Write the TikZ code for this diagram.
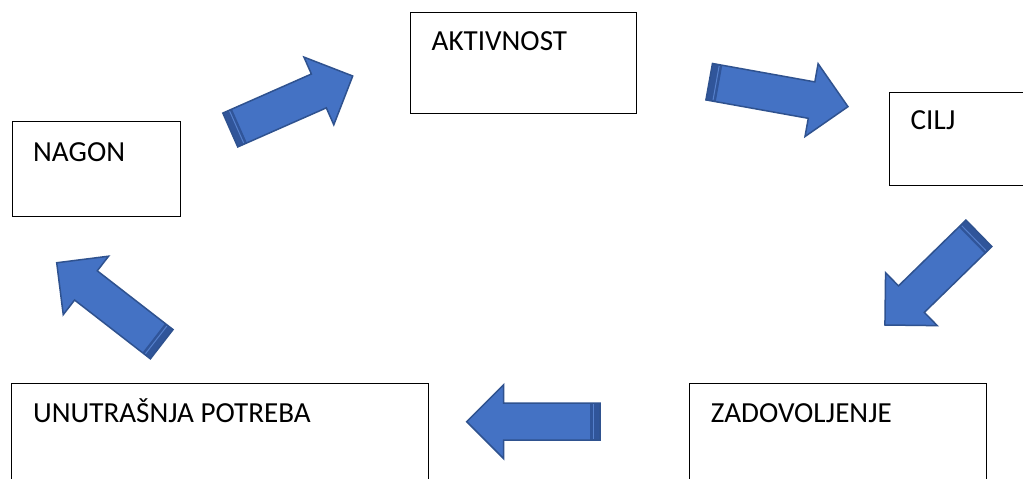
\documentclass[tikz,border=0pt]{standalone}
\usepackage{fontspec}
\setmainfont{Carlito}
\usetikzlibrary{calc}
\definecolor{afill}{HTML}{4472C4}
\definecolor{aline}{HTML}{2F528F}
\definecolor{astripe}{HTML}{30559A}
\definecolor{alight}{HTML}{5580CC}
\tikzset{
  box/.style={draw=black, line width=1.4pt, fill=white, anchor=north west, inner sep=0pt},
  lbl/.style={anchor=base west, inner sep=0pt, font=\fontsize{29.1}{33}\selectfont},
  pics/blockarrow/.style={code={
    \fill[afill] (0,-18.5) -- (#1-37,-18.5) -- (#1-37,-37) -- (#1,0) -- (#1-37,37) -- (#1-37,18.5) -- (0,18.5) -- cycle;
    \fill[astripe] (0,-18.5) rectangle (10,18.5);
    \draw[alight, line width=1pt] (7,-17.5) -- (7,17.5);
    \draw[aline, line width=1.5pt, line join=miter] (0,-18.5) -- (#1-37,-18.5) -- (#1-37,-37) -- (#1,0) -- (#1-37,37) -- (#1-37,18.5) -- (0,18.5) -- cycle;
  }}
}
\begin{document}
\begin{tikzpicture}[x=1pt, y=-1pt]
\useasboundingbox (0,0) rectangle (1023,479);
\clip (0,0) rectangle (1023,479);
\fill[white] (0,0) rectangle (1023,479);
% boxes
\node[box, minimum width=168pt, minimum height=95pt] (nagon) at (11.5,121) {};
\node[box, minimum width=226pt, minimum height=101pt] (akt) at (409.5,11.5) {};
\node[box, minimum width=160pt, minimum height=93pt] (cilj) at (888.5,91.5) {};
\node[box, minimum width=417pt, minimum height=130pt] (unu) at (10.5,382.5) {};
\node[box, minimum width=297pt, minimum height=130pt] (zad) at (689,382.5) {};
% labels
\node[lbl] (tnagon) at ($(nagon.north west)+(21.5,40.5)$) {NAGON};
\node[lbl] (takt) at ($(akt.north west)+(22,38.5)$) {AKTIVNOST};
\node[lbl] (tcilj) at ($(cilj.north west)+(22,37.5)$) {CILJ};
\node[lbl] (tunu) at ($(unu.north west)+(22.5,40)$) {UNUTRAŠNJA POTREBA};
\node[lbl] (tzad) at ($(zad.north west)+(21.7,39.7)$) {ZADOVOLJENJE};
% block arrows
\coordinate (t1) at (230.3,130);
\coordinate (t2) at (709.2,81.7);
\coordinate (t3) at (978.9,233.3);
\coordinate (t4) at (600,421.7);
\coordinate (t5) at (161.7,344.2);
\pic[rotate=23.8] at (t1) {blockarrow=133.8};
\pic[rotate=-10.2] at (t2) {blockarrow=141};
\pic[rotate=-135.7] at (t3) {blockarrow=131.3};
\pic[rotate=180] at (t4) {blockarrow=133.3};
\pic[rotate=142.2] at (t5) {blockarrow=132.9};
\end{tikzpicture}
\end{document}
